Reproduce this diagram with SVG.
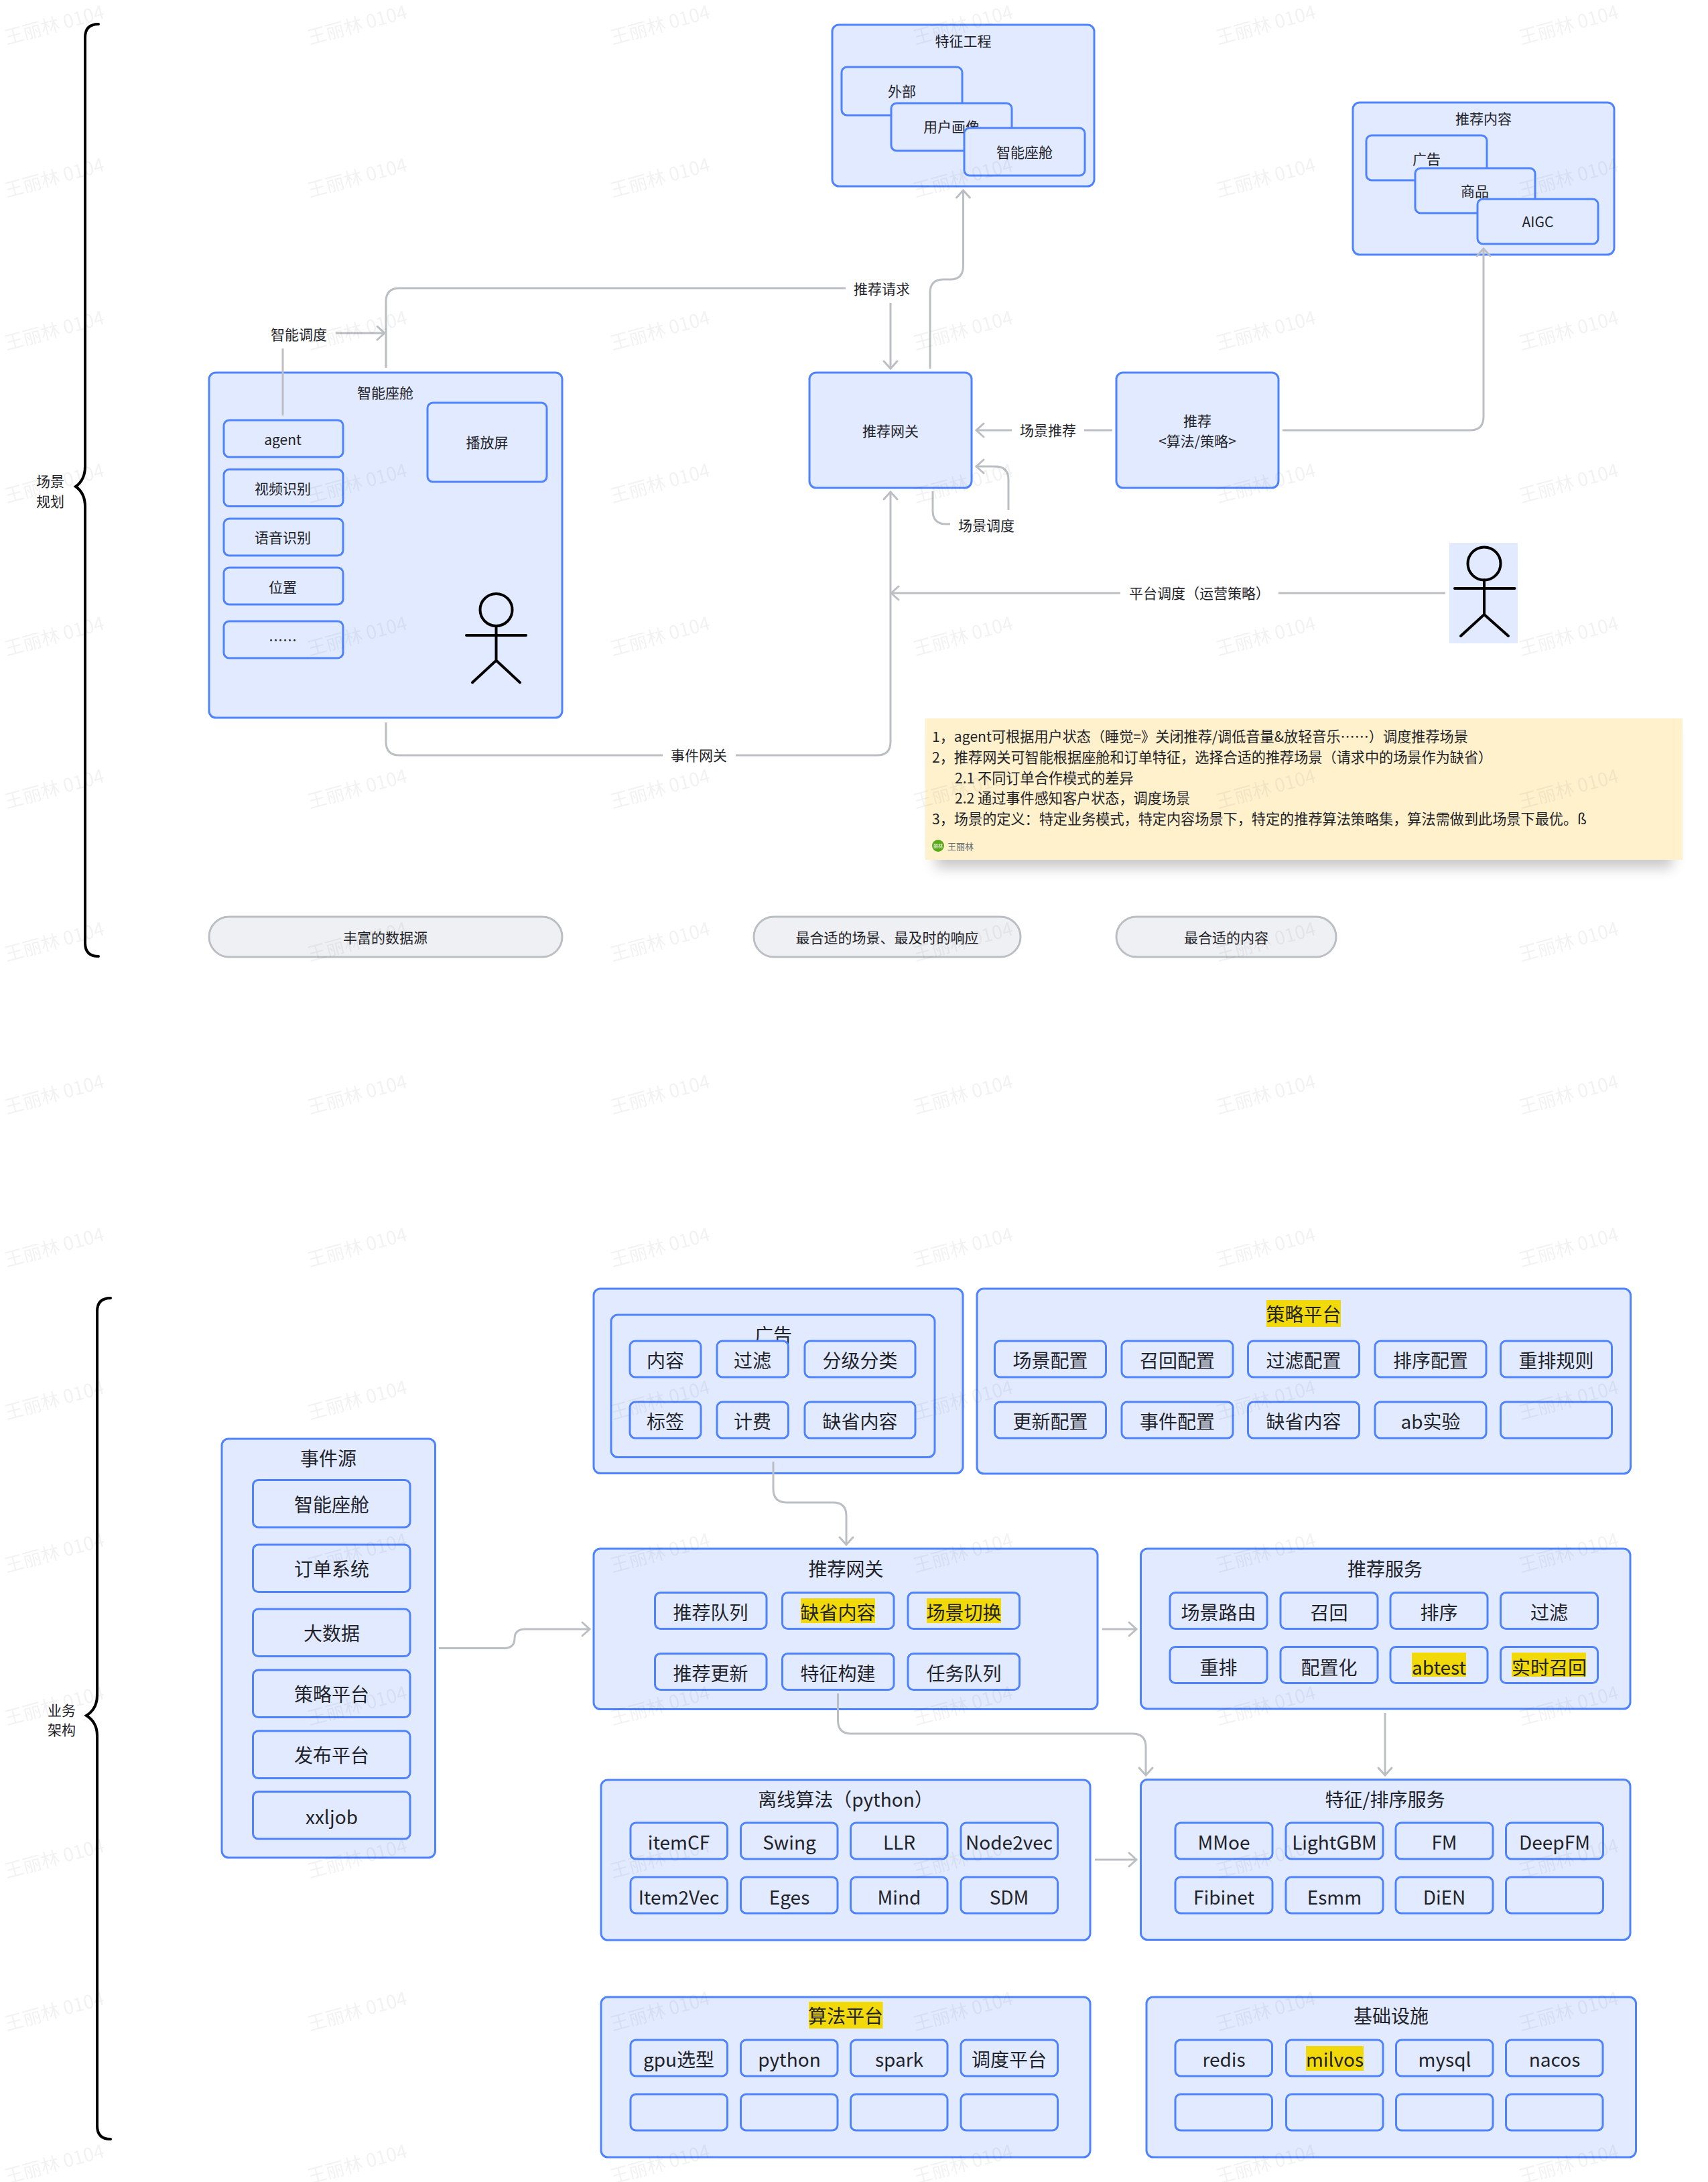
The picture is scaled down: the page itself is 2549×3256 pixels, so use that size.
<svg xmlns="http://www.w3.org/2000/svg" width="2549" height="3256" viewBox="0 0 2549 3256">
<style>
text{font-family:"Noto Sans CJK SC","Noto Sans",sans-serif;fill:#1F2329;text-anchor:middle}
.box{fill:#E1EAFF;stroke:#4E83FD;stroke-width:3}
.pill{fill:#EFF0F3;stroke:#BBBFC4;stroke-width:3}
.s{font-size:21px}
.l{font-size:28px}
.n{font-size:21.150px;text-anchor:start}
.hl{fill:#F2D90A}
.conn{fill:none;stroke:#BBBFC4;stroke-width:3}
.brace{fill:none;stroke:#000;stroke-width:4;stroke-linecap:round}
.actor{fill:none;stroke:#000;stroke-width:4;stroke-linecap:round}
.wm{font-size:28px;fill:#1F2329;fill-opacity:.06}
</style>
<defs>
<marker id="arrow" markerUnits="userSpaceOnUse" markerWidth="30" markerHeight="30" refX="15" refY="15" orient="auto">
<path d="M4 5L15 15L4 25" fill="none" stroke="#BBBFC4" stroke-width="3" stroke-linecap="round"/>
</marker>
<filter id="blur" x="-10%" y="-30%" width="120%" height="160%"><feGaussianBlur stdDeviation="10"/></filter>
<pattern id="wmark" patternUnits="userSpaceOnUse" width="452" height="228">
<text class="wm" x="81" y="47" transform="rotate(-15 81 37)">王丽林 0104</text>
</pattern>
</defs>
<rect width="2549" height="3256" fill="#fff"/>

<g id="brace-scene">
<path class="brace" d="M147 36Q127 36 127 56V696Q127 716 113 726Q127 736 127 756V1407Q127 1427 147 1427"/>
<text class="s" x="75" y="726">场景</text>
<text class="s" x="75" y="756">规划</text>
</g>
<g id="brace-biz">
<path class="brace" d="M165 1937Q145 1937 145 1957V2530Q145 2550 129 2560Q145 2570 145 2590V3172Q145 3192 165 3192"/>
<text class="s" x="92" y="2560">业务</text>
<text class="s" x="92" y="2589">架构</text>
</g>

<g id="feature-eng">
<rect class="box" x="1242" y="37" width="391" height="241" rx="10"/>
<text class="s" x="1437.500" y="69">特征工程</text>
<g id="fe-outer"><rect class="box" x="1256" y="100" width="180" height="72" rx="8"/><text class="s" x="1346" y="144">外部</text></g>
<g id="fe-user"><rect class="box" x="1330" y="154" width="180" height="71" rx="8"/><text class="s" x="1420" y="197">用户画像</text></g>
<g id="fe-cabin"><rect class="box" x="1439" y="191" width="180" height="71" rx="8"/><text class="s" x="1529" y="235">智能座舱</text></g>
</g>

<g id="rec-content">
<rect class="box" x="2019" y="153" width="390" height="227" rx="10"/>
<text class="s" x="2214" y="185">推荐内容</text>
<g id="rc-ad"><rect class="box" x="2039" y="202" width="180" height="67" rx="8"/><text class="s" x="2129" y="245">广告</text></g>
<g id="rc-goods"><rect class="box" x="2112" y="251" width="179" height="67" rx="8"/><text class="s" x="2201" y="293">商品</text></g>
<g id="rc-aigc"><rect class="box" x="2205" y="297" width="180" height="67" rx="8"/><text class="s" x="2295" y="339">AIGC</text></g>
</g>

<g id="cabin">
<rect class="box" x="312" y="556" width="527" height="515" rx="10"/>
<text class="s" x="575" y="594">智能座舱</text>
<g id="screen"><rect class="box" x="638" y="601" width="178" height="118" rx="8"/><text class="s" x="727" y="668">播放屏</text></g>
<g id="c-agent"><rect class="box" x="334" y="627" width="178" height="55" rx="8"/><text class="s" x="422" y="664">agent</text></g>
<g id="c-video"><rect class="box" x="334" y="700.500" width="178" height="55" rx="8"/><text class="s" x="422" y="737">视频识别</text></g>
<g id="c-voice"><rect class="box" x="334" y="774" width="178" height="55" rx="8"/><text class="s" x="422" y="810">语音识别</text></g>
<g id="c-loc"><rect class="box" x="334" y="847" width="178" height="55" rx="8"/><text class="s" x="422" y="884">位置</text></g>
<g id="c-more"><rect class="box" x="334" y="927" width="178" height="55" rx="8"/><text class="s" x="422" y="963">……</text></g>
<g id="actor-user" class="actor"><circle cx="740.500" cy="910" r="24"/><path d="M740.500 934V985.500M696 948H785M705 1018.500L740.500 985.500L776 1018.500"/></g>
</g>

<g id="gateway"><rect class="box" x="1208" y="556" width="242" height="172" rx="10"/><text class="s" x="1329" y="651">推荐网关</text></g>
<g id="recommend"><rect class="box" x="1666" y="556" width="242" height="172" rx="10"/><text class="s" x="1787" y="636">推荐</text><text class="s" x="1787" y="666">&lt;算法/策略&gt;</text></g>

<g id="actor-ops">
<rect x="2163" y="810" width="102" height="150" fill="#E1EAFF"/>
<g class="actor"><circle cx="2215" cy="841" r="24.500"/><path d="M2215 865.500V917M2171 878H2260.500M2180 949L2215 917L2251 949"/></g>
</g>

<g id="note">
<rect x="1396" y="1090" width="1100" height="205" fill="#000" opacity=".22" filter="url(#blur)"/>
<rect x="1381" y="1072" width="1130" height="211" fill="#FEF1CC"/>
<text class="n" x="1391" y="1107">1，agent可根据用户状态（睡觉=》关闭推荐/调低音量&amp;放轻音乐……）调度推荐场景</text>
<text class="n" x="1391" y="1138">2，推荐网关可智能根据座舱和订单特征，选择合适的推荐场景（请求中的场景作为缺省）</text>
<text class="n" x="1425" y="1169">2.1 不同订单合作模式的差异</text>
<text class="n" x="1425" y="1199">2.2 通过事件感知客户状态，调度场景</text>
<text class="n" x="1391" y="1230">3，场景的定义：特定业务模式，特定内容场景下，特定的推荐算法策略集，算法需做到此场景下最优。ß</text>
<circle cx="1400" cy="1262" r="9" fill="#5AA918"/>
<text x="1400" y="1265" style="font-size:7px;fill:#fff">丽林</text>
<text x="1414" y="1268" style="font-size:13px;fill:#646A73;text-anchor:start">王丽林</text>
</g>

<g id="pill-data"><rect class="pill" x="312" y="1368" width="527" height="60" rx="30"/><text class="s" x="575" y="1407">丰富的数据源</text></g>
<g id="pill-scene"><rect class="pill" x="1125" y="1368" width="398" height="60" rx="30"/><text class="s" x="1324" y="1407">最合适的场景、最及时的响应</text></g>
<g id="pill-content"><rect class="pill" x="1666" y="1368" width="328" height="60" rx="30"/><text class="s" x="1830" y="1407">最合适的内容</text></g>

<g id="event-source">
<rect class="box" x="331" y="2147" width="318.500" height="625" rx="10"/>
<text class="l" x="490" y="2187">事件源</text>
<g id="es1"><rect class="box" x="377.500" y="2208.500" width="234.500" height="70.500" rx="8"/><text class="l" x="495" y="2256">智能座舱</text></g>
<g id="es2"><rect class="box" x="377.500" y="2305" width="234.500" height="70.500" rx="8"/><text class="l" x="495" y="2352">订单系统</text></g>
<g id="es3"><rect class="box" x="377.500" y="2401" width="234.500" height="70.500" rx="8"/><text class="l" x="495" y="2448">大数据</text></g>
<g id="es4"><rect class="box" x="377.500" y="2492" width="234.500" height="70.500" rx="8"/><text class="l" x="495" y="2539">策略平台</text></g>
<g id="es5"><rect class="box" x="377.500" y="2583" width="234.500" height="70.500" rx="8"/><text class="l" x="495" y="2630">发布平台</text></g>
<g id="es6"><rect class="box" x="377.500" y="2673.500" width="234.500" height="70.500" rx="8"/><text class="l" x="495" y="2722">xxljob</text></g>
</g>

<g id="ads">
<rect class="box" x="886" y="1923" width="551" height="275.500" rx="10"/>
<rect class="box" x="912" y="1962" width="483" height="212.500" rx="10"/>
<text class="l" x="1154" y="2003">广告</text>
<g id="ad1"><rect class="box" x="940" y="2001" width="106" height="54" rx="8"/><text class="l" x="993" y="2040.500">内容</text></g>
<g id="ad2"><rect class="box" x="1070" y="2001" width="106.500" height="54" rx="8"/><text class="l" x="1123" y="2040.500">过滤</text></g>
<g id="ad3"><rect class="box" x="1201" y="2001" width="165" height="54" rx="8"/><text class="l" x="1283.500" y="2040.500">分级分类</text></g>
<g id="ad4"><rect class="box" x="940" y="2092" width="106" height="54" rx="8"/><text class="l" x="993" y="2131.500">标签</text></g>
<g id="ad5"><rect class="box" x="1070" y="2092" width="106.500" height="54" rx="8"/><text class="l" x="1123" y="2131.500">计费</text></g>
<g id="ad6"><rect class="box" x="1201" y="2092" width="165" height="54" rx="8"/><text class="l" x="1283.500" y="2131.500">缺省内容</text></g>
</g>

<g id="strategy">
<rect class="box" x="1458" y="1923" width="975.500" height="276" rx="10"/>
<rect class="hl" x="1890" y="1940" width="111" height="40"/>
<text class="l" x="1945.500" y="1972">策略平台</text>
<g id="st1"><rect class="box" x="1484.500" y="2001" width="166" height="54" rx="8"/><text class="l" x="1567.500" y="2040.500">场景配置</text></g>
<g id="st2"><rect class="box" x="1674" y="2001" width="166" height="54" rx="8"/><text class="l" x="1757" y="2040.500">召回配置</text></g>
<g id="st3"><rect class="box" x="1862.500" y="2001" width="166" height="54" rx="8"/><text class="l" x="1945.500" y="2040.500">过滤配置</text></g>
<g id="st4"><rect class="box" x="2052" y="2001" width="166" height="54" rx="8"/><text class="l" x="2135" y="2040.500">排序配置</text></g>
<g id="st5"><rect class="box" x="2239.500" y="2001" width="166" height="54" rx="8"/><text class="l" x="2322.500" y="2040.500">重排规则</text></g>
<g id="st6"><rect class="box" x="1484.500" y="2092" width="166" height="54" rx="8"/><text class="l" x="1567.500" y="2131.500">更新配置</text></g>
<g id="st7"><rect class="box" x="1674" y="2092" width="166" height="54" rx="8"/><text class="l" x="1757" y="2131.500">事件配置</text></g>
<g id="st8"><rect class="box" x="1862.500" y="2092" width="166" height="54" rx="8"/><text class="l" x="1945.500" y="2131.500">缺省内容</text></g>
<g id="st9"><rect class="box" x="2052" y="2092" width="166" height="54" rx="8"/><text class="l" x="2135" y="2131.500">ab实验</text></g>
<g id="st10"><rect class="box" x="2239.500" y="2092" width="166" height="54" rx="8"/></g>
</g>

<g id="rec-gateway">
<rect class="box" x="886" y="2311" width="752" height="239.500" rx="10"/>
<text class="l" x="1262.500" y="2352">推荐网关</text>
<g id="gw1"><rect class="box" x="977.500" y="2376.500" width="166.500" height="54" rx="8"/><text class="l" x="1060.500" y="2416.500">推荐队列</text></g>
<g id="gw2"><rect class="box" x="1167.500" y="2376.500" width="166.500" height="54" rx="8"/><rect class="hl" x="1195" y="2385" width="111" height="37"/><text class="l" x="1250.500" y="2416.500">缺省内容</text></g>
<g id="gw3"><rect class="box" x="1355" y="2376.500" width="166.500" height="54" rx="8"/><rect class="hl" x="1383" y="2385" width="111" height="37"/><text class="l" x="1438.500" y="2416.500">场景切换</text></g>
<g id="gw4"><rect class="box" x="977.500" y="2467.500" width="166.500" height="54" rx="8"/><text class="l" x="1060.500" y="2508">推荐更新</text></g>
<g id="gw5"><rect class="box" x="1167.500" y="2467.500" width="166.500" height="54" rx="8"/><text class="l" x="1250.500" y="2508">特征构建</text></g>
<g id="gw6"><rect class="box" x="1355" y="2467.500" width="166.500" height="54" rx="8"/><text class="l" x="1438.500" y="2508">任务队列</text></g>
</g>

<g id="rec-service">
<rect class="box" x="1702.500" y="2311" width="730.500" height="239" rx="10"/>
<text class="l" x="2067" y="2352">推荐服务</text>
<g id="rs1"><rect class="box" x="1746" y="2376.500" width="145" height="54" rx="8"/><text class="l" x="1818.500" y="2416.500">场景路由</text></g>
<g id="rs2"><rect class="box" x="1911" y="2376.500" width="145" height="54" rx="8"/><text class="l" x="1983.500" y="2416.500">召回</text></g>
<g id="rs3"><rect class="box" x="2075" y="2376.500" width="145" height="54" rx="8"/><text class="l" x="2147.500" y="2416.500">排序</text></g>
<g id="rs4"><rect class="box" x="2239.500" y="2376.500" width="145" height="54" rx="8"/><text class="l" x="2312" y="2416.500">过滤</text></g>
<g id="rs5"><rect class="box" x="1746" y="2457.500" width="145" height="54" rx="8"/><text class="l" x="1818.500" y="2498.500">重排</text></g>
<g id="rs6"><rect class="box" x="1911" y="2457.500" width="145" height="54" rx="8"/><text class="l" x="1983.500" y="2498.500">配置化</text></g>
<g id="rs7"><rect class="box" x="2075" y="2457.500" width="145" height="54" rx="8"/><rect class="hl" x="2107" y="2466" width="81" height="36"/><text class="l" x="2147.500" y="2498.500">abtest</text></g>
<g id="rs8"><rect class="box" x="2239.500" y="2457.500" width="145" height="54" rx="8"/><rect class="hl" x="2256" y="2466" width="111" height="36"/><text class="l" x="2312" y="2498.500">实时召回</text></g>
</g>

<g id="offline">
<rect class="box" x="897" y="2656" width="730" height="239" rx="10"/>
<text class="l" x="1262" y="2696">离线算法（python）</text>
<g id="of1"><rect class="box" x="941" y="2720" width="144.500" height="54" rx="8"/><text class="l" x="1013" y="2760">itemCF</text></g>
<g id="of2"><rect class="box" x="1105.500" y="2720" width="144.500" height="54" rx="8"/><text class="l" x="1178" y="2760">Swing</text></g>
<g id="of3"><rect class="box" x="1269.500" y="2720" width="144.500" height="54" rx="8"/><text class="l" x="1342" y="2760">LLR</text></g>
<g id="of4"><rect class="box" x="1434" y="2720" width="144.500" height="54" rx="8"/><text class="l" x="1506" y="2760">Node2vec</text></g>
<g id="of5"><rect class="box" x="941" y="2801" width="144.500" height="54" rx="8"/><text class="l" x="1013" y="2842">Item2Vec</text></g>
<g id="of6"><rect class="box" x="1105.500" y="2801" width="144.500" height="54" rx="8"/><text class="l" x="1178" y="2842">Eges</text></g>
<g id="of7"><rect class="box" x="1269.500" y="2801" width="144.500" height="54" rx="8"/><text class="l" x="1342" y="2842">Mind</text></g>
<g id="of8"><rect class="box" x="1434" y="2801" width="144.500" height="54" rx="8"/><text class="l" x="1506" y="2842">SDM</text></g>
</g>

<g id="feature-rank">
<rect class="box" x="1702.500" y="2655.500" width="730.500" height="239" rx="10"/>
<text class="l" x="2067" y="2696">特征/排序服务</text>
<g id="fr1"><rect class="box" x="1754" y="2720" width="145" height="54" rx="8"/><text class="l" x="1826.500" y="2760">MMoe</text></g>
<g id="fr2"><rect class="box" x="1919" y="2720" width="145" height="54" rx="8"/><text class="l" x="1991.500" y="2760">LightGBM</text></g>
<g id="fr3"><rect class="box" x="2083" y="2720" width="145" height="54" rx="8"/><text class="l" x="2155.500" y="2760">FM</text></g>
<g id="fr4"><rect class="box" x="2247.500" y="2720" width="145" height="54" rx="8"/><text class="l" x="2320" y="2760">DeepFM</text></g>
<g id="fr5"><rect class="box" x="1754" y="2801" width="145" height="54" rx="8"/><text class="l" x="1826.500" y="2842">Fibinet</text></g>
<g id="fr6"><rect class="box" x="1919" y="2801" width="145" height="54" rx="8"/><text class="l" x="1991.500" y="2842">Esmm</text></g>
<g id="fr7"><rect class="box" x="2083" y="2801" width="145" height="54" rx="8"/><text class="l" x="2155.500" y="2842">DiEN</text></g>
<g id="fr8"><rect class="box" x="2247.500" y="2801" width="145" height="54" rx="8"/></g>
</g>

<g id="algo-platform">
<rect class="box" x="897" y="2980" width="730" height="239" rx="10"/>
<rect class="hl" x="1207" y="2987" width="110.500" height="40"/>
<text class="l" x="1262" y="3019">算法平台</text>
<g id="ap1"><rect class="box" x="941" y="3044" width="144.500" height="54" rx="8"/><text class="l" x="1013" y="3084">gpu选型</text></g>
<g id="ap2"><rect class="box" x="1105.500" y="3044" width="144.500" height="54" rx="8"/><text class="l" x="1178" y="3084">python</text></g>
<g id="ap3"><rect class="box" x="1269.500" y="3044" width="144.500" height="54" rx="8"/><text class="l" x="1342" y="3084">spark</text></g>
<g id="ap4"><rect class="box" x="1434" y="3044" width="144.500" height="54" rx="8"/><text class="l" x="1506" y="3084">调度平台</text></g>
<g id="ap5"><rect class="box" x="941" y="3125" width="144.500" height="54" rx="8"/></g>
<g id="ap6"><rect class="box" x="1105.500" y="3125" width="144.500" height="54" rx="8"/></g>
<g id="ap7"><rect class="box" x="1269.500" y="3125" width="144.500" height="54" rx="8"/></g>
<g id="ap8"><rect class="box" x="1434" y="3125" width="144.500" height="54" rx="8"/></g>
</g>

<g id="infra">
<rect class="box" x="1711" y="2980" width="730.500" height="239" rx="10"/>
<text class="l" x="2076" y="3019">基础设施</text>
<g id="in1"><rect class="box" x="1754" y="3044" width="144.500" height="54" rx="8"/><text class="l" x="1826.500" y="3084">redis</text></g>
<g id="in2"><rect class="box" x="1919.500" y="3044" width="144.500" height="54" rx="8"/><rect class="hl" x="1949" y="3053" width="86" height="37"/><text class="l" x="1992" y="3084">milvos</text></g>
<g id="in3"><rect class="box" x="2083.500" y="3044" width="144.500" height="54" rx="8"/><text class="l" x="2156" y="3084">mysql</text></g>
<g id="in4"><rect class="box" x="2247.500" y="3044" width="144.500" height="54" rx="8"/><text class="l" x="2320" y="3084">nacos</text></g>
<g id="in5"><rect class="box" x="1754" y="3125" width="144.500" height="54" rx="8"/></g>
<g id="in6"><rect class="box" x="1919.500" y="3125" width="144.500" height="54" rx="8"/></g>
<g id="in7"><rect class="box" x="2083.500" y="3125" width="144.500" height="54" rx="8"/></g>
<g id="in8"><rect class="box" x="2247.500" y="3125" width="144.500" height="54" rx="8"/></g>
</g>

<g id="connectors">
<path class="conn" d="M422 620V520"/>
<path class="conn" d="M501 497H574" marker-end="url(#arrow)"/>
<path class="conn" d="M576 549V450Q576 430 596 430H1262"/>
<path class="conn" d="M1329 452V550" marker-end="url(#arrow)"/>
<path class="conn" d="M1388 550V437Q1388 417 1408 417H1418Q1437.500 417 1437.500 397V284" marker-end="url(#arrow)"/>
<path class="conn" d="M1914 642H2194Q2214 642 2214 622V371" marker-end="url(#arrow)"/>
<path class="conn" d="M1660 642H1618"/>
<path class="conn" d="M1510 642H1457" marker-end="url(#arrow)"/>
<path class="conn" d="M1392 733V762Q1392 782 1412 782H1418"/>
<path class="conn" d="M1505 761V716Q1505 696 1485 696H1457" marker-end="url(#arrow)"/>
<path class="conn" d="M576 1078V1107Q576 1127 596 1127H989"/>
<path class="conn" d="M1098 1127H1309Q1329 1127 1329 1107V734" marker-end="url(#arrow)"/>
<path class="conn" d="M2157 885H1908"/>
<path class="conn" d="M1672 885H1330" marker-end="url(#arrow)"/>
<path class="conn" d="M1154 2181V2222Q1154 2242 1174 2242H1243Q1263 2242 1263 2262V2305" marker-end="url(#arrow)"/>
<path class="conn" d="M655 2459.500H752Q768 2459.500 768 2445Q768 2431 784 2431H880" marker-end="url(#arrow)"/>
<path class="conn" d="M1645 2431H1696" marker-end="url(#arrow)"/>
<path class="conn" d="M1250.500 2527V2567Q1250.500 2587 1270 2587H1690Q1710 2587 1710 2607V2649" marker-end="url(#arrow)"/>
<path class="conn" d="M2067 2556V2649" marker-end="url(#arrow)"/>
<path class="conn" d="M1634 2775H1696" marker-end="url(#arrow)"/>
</g>

<g id="conn-labels">
<text class="s" x="446" y="507">智能调度</text>
<text class="s" x="1316" y="439">推荐请求</text>
<text class="s" x="1564" y="650">场景推荐</text>
<text class="s" x="1472" y="792">场景调度</text>
<text class="s" x="1790" y="893">平台调度（运营策略）</text>
<text class="s" x="1043" y="1135">事件网关</text>
</g>

<rect id="watermark" width="2549" height="3256" fill="url(#wmark)"/>
</svg>
